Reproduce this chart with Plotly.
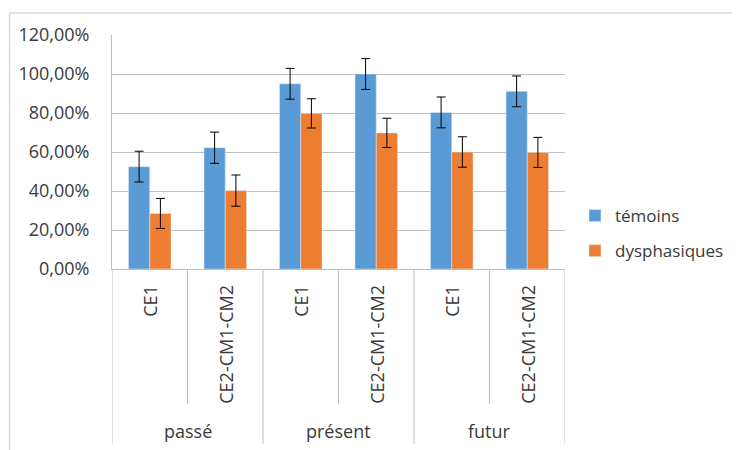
import plotly.graph_objects as go

# ---- data ----
groups = ["passé", "passé", "présent", "présent", "futur", "futur"]
levels = ["CE1", "CE2-CM1-CM2", "CE1", "CE2-CM1-CM2", "CE1", "CE2-CM1-CM2"]
group_names = ["passé", "présent", "futur"]
temoins = [0.525, 0.622, 0.950, 1.000, 0.803, 0.911]
temoins_err = [0.079, 0.080, 0.079, 0.079, 0.079, 0.079]
dysphasiques = [0.285, 0.402, 0.798, 0.698, 0.600, 0.598]
dysphasiques_err = [0.077, 0.080, 0.075, 0.075, 0.078, 0.077]
y_ticks = [0, 0.2, 0.4, 0.6, 0.8, 1.0, 1.2]

# ---- layout geometry (window pixels; page body has an 8px margin) ----
OFF = 8
W, H = 740 - OFF, 450 - OFF
L, R, T, B = 112, 565, 35, 269
TXT = "#3a3a3a"
FONT = "Open Sans"
FS = 18

def px_x(px):
    return (px - L) / (R - L)

def px_y(py):
    return (B - py) / (B - T)

cats = [f"{g} | {l}" for g, l in zip(groups, levels)]

fig = go.Figure()
fig.add_trace(go.Bar(
    name="témoins", x=cats, y=temoins, marker_color="#5B9BD5",
    error_y=dict(type="data", array=temoins_err, color="#000000", thickness=1, width=4.5),
    legendgroup="a",
))
fig.add_trace(go.Bar(
    name="dysphasiques", x=cats, y=dysphasiques, marker_color="#ED7D31",
    error_y=dict(type="data", array=dysphasiques_err, color="#000000", thickness=1, width=4.5),
    legendgroup="b",
))

annotations = []
for c, l in zip(cats, levels):
    annotations.append(dict(
        x=c, xref="x", y=px_y(283), yref="paper", text=l, textangle=-90,
        showarrow=False, xanchor="center", yanchor="top",
        font=dict(family=FONT, size=FS, color=TXT),
    ))
for i, g in enumerate(group_names):
    annotations.append(dict(
        x=2 * i + 0.5, xref="x", y=px_y(431), yref="paper", text=g,
        showarrow=False, xanchor="center", yanchor="middle",
        font=dict(family=FONT, size=FS, color=TXT),
    ))

shapes = []
line_col = "#bfbfbf"
for xv in [0.5, 2.5, 4.5]:
    shapes.append(dict(type="line", xref="x", yref="paper", x0=xv, x1=xv,
                       y0=0, y1=px_y(404), line=dict(color=line_col, width=1)))
for xv in [-0.5, 1.5, 3.5, 5.5]:
    shapes.append(dict(type="line", xref="x", yref="paper", x0=xv, x1=xv,
                       y0=0, y1=px_y(444), line=dict(color=line_col, width=1)))
# outer chart border (top and left only visible)
shapes.append(dict(type="line", xref="paper", yref="paper", x0=px_x(9.5), x1=px_x(9.5),
                   y0=px_y(13), y1=px_y(460), line=dict(color="#d9d9d9", width=1.5)))
shapes.append(dict(type="line", xref="paper", yref="paper", x0=px_x(9.5), x1=px_x(760),
                   y0=px_y(13), y1=px_y(13), line=dict(color="#d9d9d9", width=1.5)))

fig.update_layout(
    width=W, height=H, autosize=False,
    margin=dict(l=L - OFF, r=W - (R - OFF), t=T - OFF, b=H - (B - OFF), pad=0,
                autoexpand=False),
    paper_bgcolor="white", plot_bgcolor="white",
    separators=", ",
    barmode="group", bargap=0.436, bargroupgap=0,
    font=dict(family=FONT, size=FS, color=TXT),
    showlegend=True,
    legend=dict(
        x=px_x(575), xanchor="left", y=px_y(198), yanchor="top",
        traceorder="grouped", tracegroupgap=10,
        font=dict(family=FONT, size=17, color=TXT),
        bgcolor="rgba(0,0,0,0)",
    ),
    xaxis=dict(type="category", categoryarray=cats, range=[-0.5, 5.5],
               showticklabels=False, showgrid=False, ticks="",
               showline=True, linecolor=line_col, linewidth=1, zeroline=False),
    yaxis=dict(range=[0, 1.2], tickvals=y_ticks, tickformat=".2%",
               showgrid=True, gridcolor=line_col, gridwidth=1,
               showline=True, linecolor=line_col, linewidth=1, zeroline=False,
               ticks="", ticklabelstandoff=18,
               tickfont=dict(family=FONT, size=FS, color=TXT)),
    annotations=annotations,
    shapes=shapes,
)

fig.write_html("out.html")
